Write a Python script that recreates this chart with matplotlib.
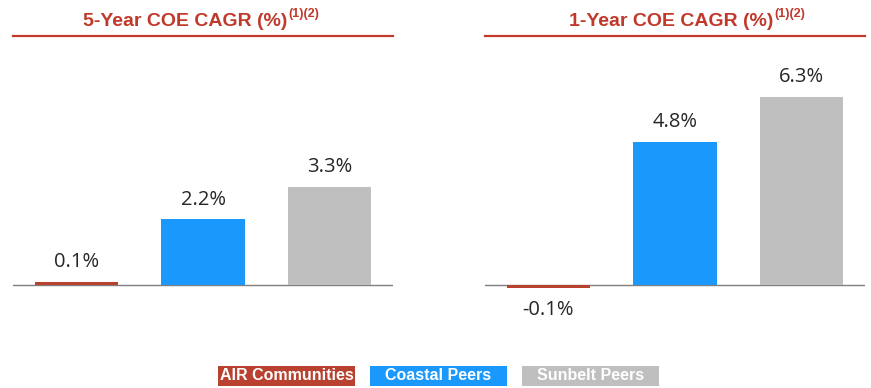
import matplotlib
matplotlib.use('Agg')
import matplotlib.pyplot as plt
from matplotlib.patches import Rectangle
from matplotlib.lines import Line2D

groups = ['AIR Communities', 'Coastal Peers', 'Sunbelt Peers']
colors = ['#B8412F', '#1A98FB', '#BFBFBF']
cagr_5yr = [0.1, 2.2, 3.3]
cagr_1yr = [-0.1, 4.8, 6.3]
labels_5yr = ['0.1%', '2.2%', '3.3%']
labels_1yr = ['-0.1%', '4.8%', '6.3%']

W, H = 871, 388
fig = plt.figure(figsize=(W / 100, H / 100), dpi=100)
red = '#C0392B'

def fx(x):
    return x / W

def fy(y):
    return 1 - y / H

title_font = ['Liberation Sans Narrow', 'Liberation Sans', 'DejaVu Sans']
label_font = ['Open Sans', 'DejaVu Sans']

panels = [
    (13, cagr_5yr, labels_5yr, '5-Year COE CAGR (%)', 287),
    (485, cagr_1yr, labels_1yr, '1-Year COE CAGR (%)', 773),
]

top, bottom, base = 40, 330, 285
ppu = 29.8  # pixels per percent
for left, vals, labs, title, tend in panels:
    ax = fig.add_axes([fx(left), fy(bottom), fx(380), (bottom - top) / H])
    ax.bar(range(3), vals, width=0.66, color=colors)
    ax.set_xlim(-0.5, 2.5)
    ax.set_ylim(-(bottom - base) / ppu, (base - top) / ppu)
    ax.axhline(0, color='#7F7F7F', lw=1.0, zorder=0)
    for i, (v, t) in enumerate(zip(vals, labs)):
        if v >= 0:
            ax.text(i, v + 0.33, t, ha='center', va='bottom', fontsize=14.5,
                    color='#262626', family=label_font)
        else:
            ax.text(i, v - 0.4, t, ha='center', va='top', fontsize=14.5,
                    color='#262626', family=label_font)
    ax.axis('off')

    # title with underline
    fig.add_artist(Line2D([fx(left), fx(left + 380)], [fy(36), fy(36)],
                          color=red, lw=1.6))
    fig.text(fx(tend), fy(26), title, ha='right', va='baseline',
             fontsize=14, fontweight='bold', color=red, family=title_font)
    fig.text(fx(tend + 1), fy(17), '(1)(2)', ha='left', va='baseline',
             fontsize=9, fontweight='bold', color=red, family=title_font)

# legend boxes
box_x = [218, 370, 522]
for x0, name, c in zip(box_x, groups, colors):
    fig.add_artist(Rectangle((fx(x0), fy(386)), fx(137), 20 / H,
                             facecolor=c, edgecolor='none',
                             transform=fig.transFigure))
    fig.text(fx(x0 + 68.5), fy(376), name, ha='center', va='center',
             fontsize=11.5, fontweight='bold', color='white', family=title_font)

fig.savefig('out.png', dpi=100)
